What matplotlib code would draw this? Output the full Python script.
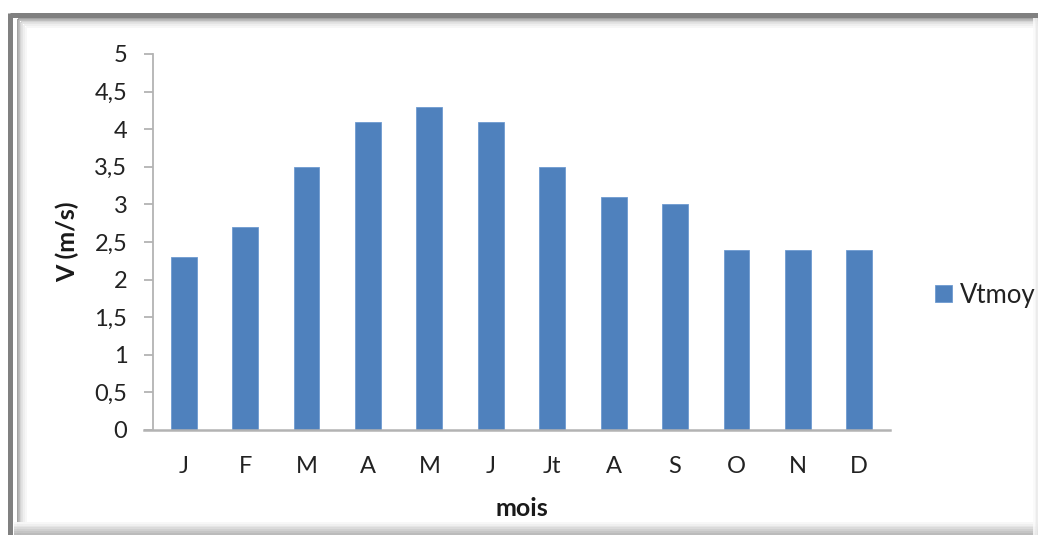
import matplotlib
matplotlib.use("Agg")
import matplotlib.pyplot as plt
from matplotlib.lines import Line2D

months = ["J", "F", "M", "A", "M", "J", "Jt", "A", "S", "O", "N", "D"]
vtmoy = [2.3, 2.7, 3.5, 4.1, 4.3, 4.1, 3.5, 3.1, 3.0, 2.4, 2.4, 2.4]
yticks = [0, 0.5, 1, 1.5, 2, 2.5, 3, 3.5, 4, 4.5, 5]
ytick_labels = ["0", "0,5", "1", "1,5", "2", "2,5", "3", "3,5", "4", "4,5", "5"]
series_name = "Vtmoy"

plt.rcParams['font.family'] = ['Lato', 'DejaVu Sans']

W, H = 1038, 535
fig = plt.figure(figsize=(W / 100, H / 100), dpi=100)
fig.patch.set_facecolor("white")

def fx(px):
    return px / W

def fy(py):
    return 1 - py / H

def line(x0, y0, x1, y1, c, lw):
    fig.add_artist(Line2D([fx(x0), fx(x1)], [fy(y0), fy(y1)], color=c, lw=lw,
                          transform=fig.transFigure, solid_capstyle="butt"))

# screenshot frame with inner shadow
shadow_cols = ["#9a9a9a", "#b8b8b8", "#d0d0d0", "#e2e2e2", "#eeeeee", "#f7f7f7"]
for i, c in enumerate(shadow_cols):
    off = 17.5 + i * 1.6
    line(off, off + 1, W + 5, off + 1, c, 1.3)
    line(off, off + 1, off, H + 5, c, 1.3)
bottom_cols = ["#f7f7f7", "#efefef", "#e5e5e5", "#dadada", "#cfcfcf", "#c4c4c4", "#bababa"]
for i, c in enumerate(bottom_cols):
    yb = 523 + i * 1.8
    line(14, yb, W + 5, yb, c, 1.4)
for i, c in enumerate(["#fafafa", "#f2f2f2", "#eaeaea"]):
    xr = 1034 + i * 1.5
    line(xr, 18, xr, H + 5, c, 1.2)
line(9.5, 14.5, W + 5, 14.5, "#808080", 3.6)
line(9.5, 12.7, 9.5, H + 5, "#808080", 3.6)

ax = fig.add_axes([fx(153), fy(430), fx(890) - fx(153), fy(54) - fy(430)])
x = list(range(len(months)))
ax.bar(x, vtmoy, width=0.42, color="#4F81BD", edgecolor="#6f9ad0", linewidth=0.6,
       label=series_name, zorder=3)
ax.set_xlim(-0.5, len(months) - 0.5)
ax.set_ylim(0, 5)
ax.set_yticks(yticks)
ax.set_yticklabels(ytick_labels)
ax.set_xticks(x)
ax.set_xticklabels(months)
for s in ["top", "right"]:
    ax.spines[s].set_visible(False)
ax.spines["left"].set_color("#b3b3b3")
ax.spines["bottom"].set_color("#b3b3b3")
ax.spines["left"].set_linewidth(1.3)
ax.spines["bottom"].set_linewidth(1.8)
ax.spines["bottom"].set_bounds(-0.65, len(months) - 0.5)
ax.spines["bottom"].set_zorder(4)
ax.tick_params(axis="y", length=6.5, width=1.3, color="#b3b3b3", labelsize=17,
               labelcolor="#222222", pad=12)
ax.tick_params(axis="x", length=0, labelsize=17, labelcolor="#222222", pad=19)
ax.set_ylabel("V (m/s)", fontsize=18, fontweight="bold", color="#1a1a1a", labelpad=11)
ax.set_xlabel("mois", fontsize=18, fontweight="bold", color="#1a1a1a", labelpad=14)

leg = fig.legend(loc="center left", bbox_to_anchor=(fx(935), fy(295)), frameon=False,
                 fontsize=18.5, handlelength=0.68, handleheight=0.68, handletextpad=0.3,
                 borderaxespad=0, borderpad=0)
for t in leg.get_texts():
    t.set_color("#222222")

fig.savefig("out.png", dpi=100, facecolor="white")
